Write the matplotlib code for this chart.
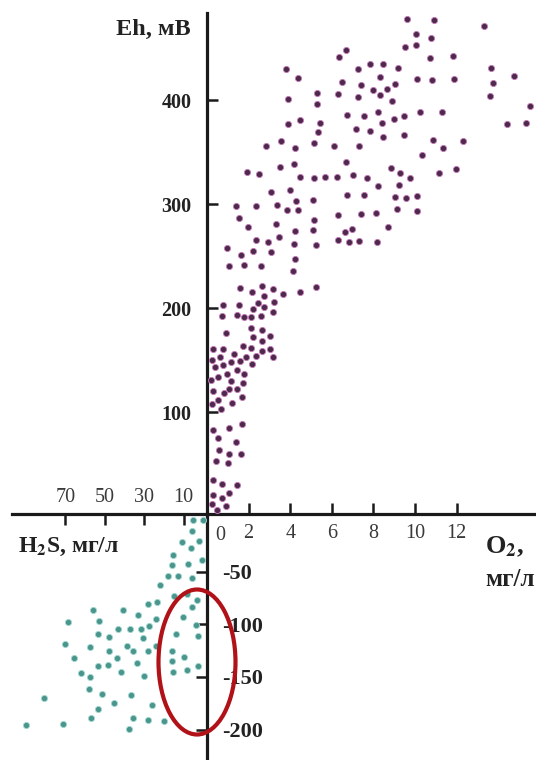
import matplotlib
matplotlib.use('Agg')
import matplotlib.pyplot as plt
from matplotlib.patches import Ellipse

plt.rcParams['font.family'] = ['Liberation Serif', 'DejaVu Serif']
plt.rcParams['mathtext.fontset'] = 'stix'

# upper right: O2 (mg/l) vs Eh (mV)
o2 = [6.67, 6.35, 3.81, 4.39, 7.26, 6.50, 7.42, 5.27, 6.28, 7.26, 3.91, 5.30, 6.73, 7.56,
      3.88, 4.47, 5.43, 5.35, 7.15, 7.85, 2.84, 3.54, 4.23, 5.16, 6.12, 7.29, 6.70, 1.91,
      2.50, 3.51, 4.18, 4.47, 5.16, 5.67, 6.24, 7.03, 7.68,
      9.62, 10.90, 13.32, 10.05, 10.77, 9.50, 10.05, 10.72, 11.84, 7.84, 8.45, 9.18, 13.65,
      14.77, 13.74, 13.61, 8.33, 10.08, 10.80, 11.88, 7.97, 8.64, 9.02, 8.30, 8.88, 15.54,
      8.24, 8.40, 8.98, 9.49, 10.25, 11.28, 14.42, 15.34, 8.45, 9.49, 10.85, 11.33, 12.32,
      10.35, 8.85, 9.29, 9.77, 11.14, 11.96,
      3.09, 3.99, 4.26, 5.11, 6.73, 7.56, 1.38, 2.36, 3.38, 3.83, 4.38, 1.55, 1.99, 3.32,
      5.14, 6.28, 7.42, 4.22, 5.11, 6.62, 6.97, 2.36, 2.95, 3.46, 4.18, 5.24, 6.28, 6.81,
      7.29, 0.95, 1.65, 2.23, 3.06, 4.23, 1.06, 1.78, 2.58, 4.15, 1.59, 2.18, 2.64, 3.17,
      2.74, 3.67, 4.49, 5.25, 0.75, 1.55, 2.45, 2.74, 3.24, 2.20, 0.74, 1.43, 1.79, 2.12,
      2.61, 3.16, 2.13, 2.64, 0.90, 2.23, 3.03, 2.63,
      8.24, 9.22, 9.04, 9.57, 10.08, 8.14, 9.12, 10.08, 8.72, 8.16,
      0.27, 0.78, 1.72, 2.12, 2.66, 3.03, 3.16, 2.36, 1.88, 1.30, 0.63, 0.23, 1.59, 1.14,
      2.18, 0.38, 0.75, 1.43, 0.98, 1.78, 0.54, 0.18, 1.14, 1.72, 1.07, 1.43, 0.27, 0.82,
      1.67, 0.51, 1.20, 0.23, 0.67, 0.30, 1.07, 1.70, 0.54, 1.39, 0.59, 1.07, 1.63, 0.43,
      1.02, 0.27, 0.74, 1.43, 1.07, 0.30, 0.74, 0.23, 0.90, 0.47]
eh_pos = [448, 441, 430, 421, 430, 417, 414, 407, 406, 403, 401, 396, 386, 385,
          377, 381, 378, 369, 372, 370, 356, 361, 354, 359, 356, 356, 340, 331,
          329, 336, 338, 326, 325, 326, 326, 328, 325,
          478, 477, 471, 463, 460, 451, 453, 440, 442, 435, 435, 431, 431,
          423, 416, 404, 422, 420, 419, 420, 410, 411, 415, 405, 399, 394,
          388, 378, 382, 385, 388, 388, 377, 378, 364, 366, 362, 354, 361,
          347, 335, 330, 325, 330, 334,
          312, 313, 303, 304, 309, 309, 298, 298, 299, 294, 294, 287, 278, 281,
          285, 289, 290, 274, 275, 273, 276, 265, 263, 268, 262, 261, 265, 263,
          264, 258, 251, 255, 254, 247, 240, 241, 240, 236, 219, 215, 221, 218,
          212, 213, 215, 220, 203, 203, 205, 201, 206, 199, 192, 193, 191, 191,
          192, 196, 181, 179, 176, 172, 173, 168,
          317, 318, 307, 306, 308, 291, 295, 293, 278, 263,
          161, 161, 163, 162, 159, 161, 153, 154, 153, 156, 153, 150, 149, 148,
          146, 143, 145, 140, 137, 137, 134, 131, 130, 128, 122, 122, 120, 118,
          114, 112, 109, 108, 103, 83, 85, 88, 75, 71, 63, 60, 60, 53,
          51, 35, 31, 30, 22, 20, 17, 12, 10, 6]

# lower left: H2S (mg/l) vs Eh (mV)
h2s = [0.1, 5.5, 6.0, 11.0, 2.1, 6.3, 15.6, 0.8, 15.8, 8.0, 18.1, 12.8, 5.7, 22.0,
       14.8, 8.2, 23.4, 28.3, 3.1, 5.8, 56.1, 40.6, 33.2, 10.2, 68.8, 52.8, 24.2, 3.9,
       43.4, 37.4, 31.6, 27.4, 53.3, 47.7, 30.5, 14.1, 2.9, 70.1, 57.5, 48.0, 38.9, 35.8,
       27.9, 24.2, 16.1, 65.4, 43.6, 15.8, 9.9, 53.3, 48.5, 33.8, 62.2, 41.9, 15.6, 8.4,
       2.6, 57.5, 30.1, 57.8, 51.4, 36.9, 80.8, 45.2, 25.9, 53.3, 57.1, 35.8, 28.3, 20.0,
       89.9, 71.3, 37.6]
eh_neg = [-1, -1, -11, -22, -21, -28, -34, -39, -44, -43, -54, -54, -56, -63,
          -73, -71, -79, -81, -77, -84, -86, -86, -91, -93, -98, -97, -95, -101,
          -104, -104, -104, -102, -109, -112, -113, -109, -111, -119, -122, -125, -121, -125,
          -125, -121, -125, -132, -132, -135, -131, -140, -139, -137, -146, -145, -145, -143,
          -140, -150, -149, -161, -166, -167, -170, -175, -177, -180, -189, -189, -191, -192,
          -196, -195, -199]

o2_ticks = [2, 4, 6, 8, 10, 12]
eh_pos_ticks = [100, 200, 300, 400]
h2s_ticks = [10, 30, 50, 70]
eh_neg_ticks = [-50, -100, -150, -200]
eh_neg_labels = ['-50', '-100', '-150', '-200']

W, H = 536, 760
axis_color = '#1a1a1a'

fig = plt.figure(figsize=(W / 100, H / 100), dpi=100)
ax1 = fig.add_axes([207 / W, 246 / H, 329 / W, 501 / H])
ax2 = fig.add_axes([12 / W, 0, 195 / W, 246 / H])

# upper right quadrant
ax1.patch.set_visible(False)
ax1.scatter(o2, eh_pos, s=20, c='#4d2a4a', edgecolors='#c77bbd', linewidths=0.6,
            clip_on=False, zorder=3)
ax1.set_xlim(0, 329 / 20.8)
ax1.set_ylim(2 / 1.04, 503 / 1.04)
for side in ('top', 'right'):
    ax1.spines[side].set_visible(False)
for side in ('bottom', 'left'):
    ax1.spines[side].set_linewidth(2.3)
    ax1.spines[side].set_color(axis_color)
ax1.set_xticks(o2_ticks)
ax1.set_xticklabels([str(t) for t in o2_ticks], fontsize=14.5, color='#3a3a3a')
ax1.set_yticks(eh_pos_ticks)
ax1.set_yticklabels([str(t) for t in eh_pos_ticks], fontsize=14.5, fontweight='bold',
                    color='#222222')
ax1.tick_params(direction='in', length=8, width=1.8, color=axis_color)
ax1.tick_params(axis='x', pad=7)
ax1.tick_params(axis='y', pad=11)

# lower left quadrant
ax2.patch.set_visible(False)
ax2.scatter(h2s, eh_neg, s=20, c='#4b958d', edgecolors='#a3dad3', linewidths=0.6,
            clip_on=False, zorder=3)
ax2.set_xlim(97, -3.5 / 1.975)
ax2.set_ylim(-241 / 1.053, 5 / 1.053)
for side in ('bottom', 'left'):
    ax2.spines[side].set_visible(False)
for side in ('top', 'right'):
    ax2.spines[side].set_linewidth(2.3)
    ax2.spines[side].set_color(axis_color)
ax2.xaxis.tick_top()
ax2.yaxis.tick_right()
ax2.set_xticks(h2s_ticks)
ax2.set_xticklabels([str(t) for t in h2s_ticks], fontsize=14.5, color='#3a3a3a')
ax2.set_yticks(eh_neg_ticks)
ax2.set_yticklabels(eh_neg_labels, fontsize=16, fontweight='bold', color='#222222')
ax2.tick_params(direction='in', length=8, width=1.8, color=axis_color)
ax2.tick_params(axis='x', pad=5)
ax2.tick_params(axis='y', pad=11)

# axis titles
fig.text(191 / W, 1 - 29 / H, 'Eh, мВ', ha='right', va='center', fontsize=17.5,
         fontweight='bold', color='#222222')
fig.text(18 / W, 1 - 547 / H, r'H$_\mathbf{2}$S, мг/л', ha='left', va='center',
         fontsize=17, fontweight='bold', color='#222222')
fig.text(485 / W, 1 - 547 / H, r'O$_\mathbf{2}$,', ha='left', va='center',
         fontsize=19, fontweight='bold', color='#222222')
fig.text(485 / W, 1 - 579 / H, 'мг/л', ha='left', va='center', fontsize=18,
         fontweight='bold', color='#222222')
fig.text(220 / W, 1 - 535 / H, '0', ha='center', va='center', fontsize=14.5,
         color='#3a3a3a')

# red highlight ellipse
fig.add_artist(Ellipse((197 / W, 1 - 662 / H), 77 / W, 145 / H, transform=fig.transFigure,
                       fill=False, ec='#b01217', lw=3))

fig.savefig('out.png', dpi=100)
